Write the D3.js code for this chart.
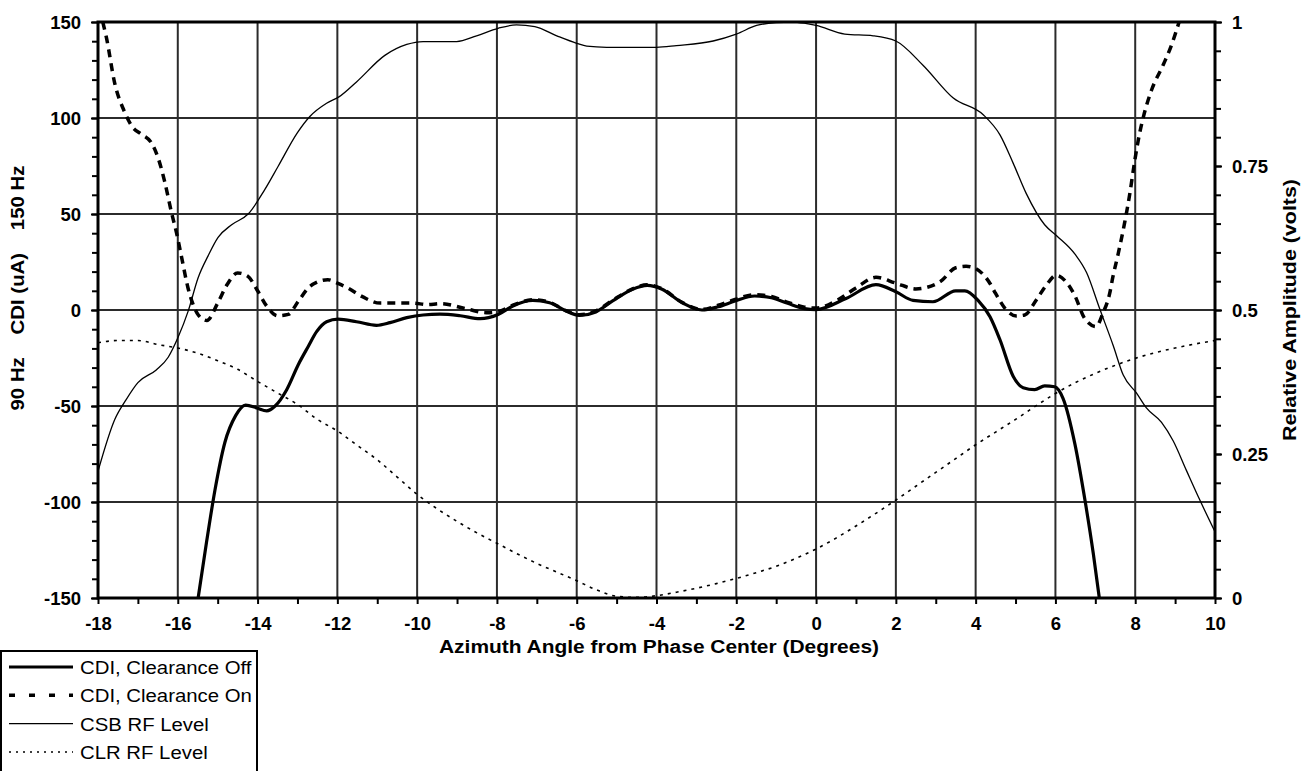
<!DOCTYPE html>
<html>
<head>
<meta charset="utf-8">
<script src="https://cdn.jsdelivr.net/npm/d3@7"></script>
<style>
  body { margin: 0; background: #fff; }
  text { font-family: Arial, "Liberation Sans", sans-serif; fill: #000; }
</style>
</head>
<body>
<svg id="vis" width="1312" height="771"></svg>
<script>
// tick labels
const angleTicks = [-18, -16, -14, -12, -10, -8, -6, -4, -2, 0, 2, 4, 6, 8, 10];
const cdiTicks = [-150, -100, -50, 0, 50, 100, 150];
const ampTicks = [0, 0.25, 0.5, 0.75, 1];

// CDI, Clearance Off  [angle, uA]
const cdiOff = [
  [-15.49, -150], [-15.28, -121], [-15.07, -94], [-14.82, -69], [-14.55, -55], [-14.3, -49.5],
  [-14.02, -51], [-13.77, -52.5], [-13.56, -50], [-13.27, -41.5], [-12.98, -28.5], [-12.73, -19],
  [-12.52, -11.3], [-12.27, -6.1], [-11.98, -4.8], [-11.52, -6.1], [-11.02, -8], [-10.68, -6.6],
  [-10.26, -4], [-9.85, -2.6], [-9.43, -2.2], [-8.92, -3], [-8.42, -4.5], [-7.97, -2.3],
  [-7.6, 2.1], [-7.1, 5], [-6.68, 3.8], [-6.27, -0.5], [-5.93, -2.8], [-5.52, -1], [-5.1, 4.7],
  [-4.6, 10.8], [-4.23, 12.8], [-3.86, 10.8], [-3.36, 3.8], [-2.86, 0], [-2.45, 1.7], [-2.03, 4.7],
  [-1.54, 7.3], [-1.12, 6.4], [-0.71, 3.5], [-0.29, 0.7], [0, 0.2], [0.75, 6], [1.5, 13.2],
  [2.0, 9.5], [2.43, 5], [2.93, 4.3], [3.5, 10], [3.73, 10], [4.06, 5], [4.36, -3.5],
  [4.61, -15.5], [4.94, -34.5], [5.19, -40.5], [5.48, -41.5], [5.73, -39.5], [5.98, -40],
  [6.19, -46], [6.49, -70], [6.74, -99], [6.95, -127], [7.1, -150]
];

// CDI, Clearance On  [angle, uA]
const cdiOn = [
  [-17.88, 150], [-17.79, 142], [-17.58, 118], [-17.33, 103], [-17.16, 96], [-16.91, 91.5],
  [-16.66, 87], [-16.49, 79], [-16.33, 67], [-16.16, 51], [-16.03, 40], [-15.9, 27], [-15.75, 12],
  [-15.6, 2], [-15.49, -2.5], [-15.27, -5.5], [-15.0, 3.6], [-14.77, 13], [-14.5, 19.3],
  [-14.24, 17.5], [-14.0, 10], [-13.77, 2], [-13.5, -3], [-13.23, -2.3], [-12.98, 4.5],
  [-12.73, 11.5], [-12.5, 14.6], [-12.24, 15.8], [-12.0, 14], [-11.74, 11.5], [-11.36, 6.8],
  [-10.93, 3.6], [-10.5, 3.6], [-10.1, 3.6], [-9.75, 2.8], [-9.42, 3.3], [-8.75, 0.5],
  [-8.27, -1.4], [-7.97, -0.9], [-7.6, 2.5], [-7.1, 5.3], [-6.68, 4], [-6.27, -0.3], [-5.93, -2.5],
  [-5.52, -0.5], [-5.1, 5], [-4.6, 11], [-4.23, 13.2], [-3.86, 11], [-3.36, 4], [-2.86, 0.3],
  [-2.45, 2.5], [-2.03, 5.5], [-1.54, 8], [-1.12, 7], [-0.71, 4], [-0.29, 1.5], [0, 1],
  [0.55, 5.3], [1.0, 11.5], [1.5, 17], [2.0, 14], [2.5, 11], [3.1, 14.6], [3.5, 22], [3.76, 22.8],
  [4.0, 21.6], [4.36, 13.8], [4.5, 8.6], [4.77, 0], [5.02, -3.1], [5.23, -2.6], [5.52, 5.2],
  [5.77, 12.9], [6.02, 18.1], [6.27, 14.6], [6.48, 7.8], [6.73, -4.3], [7.02, -8.6], [7.19, -1.7],
  [7.36, 8.6], [7.44, 17.2], [7.57, 29], [7.74, 46], [7.86, 60], [7.99, 78], [8.11, 92],
  [8.21, 101], [8.41, 114.6], [8.7, 127.6], [8.91, 138], [9.1, 150]
];

// CSB RF Level  [angle, volts]
const csbLevel = [
  [-18, 0.22], [-17.58, 0.31], [-17.29, 0.345], [-17.0, 0.374], [-16.54, 0.396], [-16.24, 0.418],
  [-15.99, 0.453], [-15.74, 0.498], [-15.49, 0.556], [-15.24, 0.594], [-14.99, 0.626],
  [-14.65, 0.648], [-14.23, 0.667], [-13.82, 0.709], [-13.48, 0.75], [-13.0, 0.808],
  [-12.69, 0.836], [-12.27, 0.859], [-11.96, 0.870], [-11.52, 0.896], [-10.81, 0.942],
  [-10.26, 0.961], [-9.85, 0.966], [-9.01, 0.966], [-8.51, 0.976], [-7.97, 0.989], [-7.51, 0.995],
  [-7.05, 0.992], [-6.5, 0.976], [-6.0, 0.963], [-5.75, 0.958], [-5.25, 0.956], [-4.0, 0.956],
  [-3.5, 0.959], [-2.58, 0.967], [-2.0, 0.979], [-1.49, 0.994], [-1.0, 0.999], [-0.6, 1.0],
  [-0.3, 0.998], [0, 0.994], [0.72, 0.979], [1.43, 0.976], [2.0, 0.967], [2.68, 0.925],
  [3.44, 0.868], [4.19, 0.839], [4.61, 0.804], [4.94, 0.755], [5.27, 0.702], [5.73, 0.648],
  [6.03, 0.629], [6.49, 0.597], [6.78, 0.565], [7.11, 0.502], [7.45, 0.438], [7.7, 0.387],
  [8.03, 0.356], [8.28, 0.33], [8.66, 0.305], [8.95, 0.273], [9.28, 0.222], [9.62, 0.17], [10, 0.115]
];

// CLR RF Level  [angle, volts]
const clrLevel = [
  [-18, 0.443], [-17.5, 0.447], [-17, 0.447], [-16.5, 0.44], [-16, 0.434], [-15.5, 0.425],
  [-15, 0.412], [-14.5, 0.397], [-14, 0.376], [-13.5, 0.356], [-13, 0.336], [-12.5, 0.31],
  [-12, 0.29], [-11.5, 0.265], [-11, 0.24], [-10.5, 0.21], [-10, 0.18], [-9.5, 0.155],
  [-9, 0.133], [-8.5, 0.113], [-8, 0.095], [-7.5, 0.077], [-7, 0.06], [-6.5, 0.045], [-6, 0.03],
  [-5.5, 0.014], [-5, 0.003], [-4.5, 0.001], [-4, 0.004], [-3.5, 0.01], [-3, 0.017],
  [-2.5, 0.025], [-2, 0.034], [-1.5, 0.044], [-1, 0.055], [-0.5, 0.069], [0, 0.085], [0.5, 0.104],
  [1, 0.125], [1.5, 0.147], [2, 0.17], [2.5, 0.194], [3, 0.218], [3.5, 0.242], [4, 0.266],
  [4.5, 0.288], [5, 0.31], [5.5, 0.333], [6, 0.355], [6.5, 0.374], [7, 0.39], [7.5, 0.404],
  [8, 0.416], [8.5, 0.426], [9, 0.434], [9.5, 0.441], [10, 0.447]
];

const legendNames = ["CDI, Clearance Off", "CDI, Clearance On", "CSB RF Level", "CLR RF Level"];

const svg = d3.select("#vis");
const plotL = 98, plotR = 1215, plotT = 22, plotB = 598;

// SCALES
const x = d3.scaleLinear().domain([-18, 10]).range([plotL, plotR]);
const yL = d3.scaleLinear().domain([-150, 150]).range([plotB, plotT]);
const yR = d3.scaleLinear().domain([0, 1]).range([plotB, plotT]);

svg.append("clipPath").attr("id", "plotClip")
  .append("rect")
  .attr("x", plotL).attr("y", plotT)
  .attr("width", plotR - plotL).attr("height", plotB - plotT);

// grid
const grid = svg.append("g").attr("stroke", "#2b2b2b").attr("stroke-width", 2);
grid.selectAll(".vg")
  .data(angleTicks.slice(1, -1))
  .join("line")
  .attr("class", "vg")
  .attr("x1", d => x(d)).attr("x2", d => x(d))
  .attr("y1", plotT).attr("y2", plotB);
grid.selectAll(".hg")
  .data(cdiTicks.slice(1, -1))
  .join("line")
  .attr("class", "hg")
  .attr("x1", plotL).attr("x2", plotR)
  .attr("y1", d => yL(d)).attr("y2", d => yL(d));

// lines
const lineL = d3.line().x(d => x(d[0])).y(d => yL(d[1])).curve(d3.curveMonotoneX);
const lineR = d3.line().x(d => x(d[0])).y(d => yR(d[1])).curve(d3.curveMonotoneX);

const plot = svg.append("g").attr("clip-path", "url(#plotClip)").attr("fill", "none").attr("stroke", "#000");

plot.append("path").datum(clrLevel)
  .attr("d", lineR).attr("stroke-width", 1.6).attr("stroke-dasharray", "3,5");
plot.append("path").datum(csbLevel)
  .attr("d", lineR).attr("stroke-width", 1.3);
plot.append("path").datum(cdiOn)
  .attr("d", lineL).attr("stroke-width", 3.5).attr("stroke-dasharray", "8,6");
plot.append("path").datum(cdiOff)
  .attr("d", lineL).attr("stroke-width", 3.2);

// axes
const plain = d => String(d);   // hyphen minus, like the original

function styleAxis(g) {
  g.select(".domain").remove();
  g.selectAll(".tick line").attr("stroke", "#000").attr("stroke-width", 2);
  g.selectAll(".tick text").style("font-size", "18.5px").style("font-weight", "bold")
    .style("font-family", "Arial, 'Liberation Sans', sans-serif");
}

svg.append("g")
  .attr("transform", `translate(${plotL},0)`)
  .call(d3.axisLeft(yL).tickValues(d3.range(-150, 151, 10)).tickSize(6).tickFormat(""))
  .call(styleAxis);
svg.append("g")
  .attr("transform", `translate(${plotL},0)`)
  .call(d3.axisLeft(yL).tickValues(cdiTicks).tickSize(7).tickPadding(10).tickFormat(plain))
  .call(styleAxis)
  .selectAll(".tick text").attr("dy", "0.36em");

svg.append("g")
  .attr("transform", `translate(${plotR},0)`)
  .call(d3.axisRight(yR).tickValues(d3.range(0, 1.001, 0.05)).tickSize(6).tickFormat(""))
  .call(styleAxis);
svg.append("g")
  .attr("transform", `translate(${plotR},0)`)
  .call(d3.axisRight(yR).tickValues(ampTicks).tickSize(7).tickPadding(10).tickFormat(plain))
  .call(styleAxis)
  .selectAll(".tick text").attr("dy", "0.36em");

svg.append("g")
  .attr("transform", `translate(0,${plotB})`)
  .call(d3.axisBottom(x).tickValues(d3.range(-17, 10, 2)).tickSize(6).tickFormat(""))
  .call(styleAxis);
svg.append("g")
  .attr("transform", `translate(0,${plotB})`)
  .call(d3.axisBottom(x).tickValues(angleTicks).tickSize(6).tickPadding(13).tickFormat(plain))
  .call(styleAxis);

// frame
svg.append("rect")
  .attr("x", plotL).attr("y", plotT)
  .attr("width", plotR - plotL).attr("height", plotB - plotT)
  .attr("fill", "none").attr("stroke", "#000").attr("stroke-width", 3);

// titles
svg.append("text")
  .attr("x", 659).attr("y", 653)
  .attr("text-anchor", "middle")
  .attr("textLength", 440).attr("lengthAdjust", "spacingAndGlyphs")
  .style("font-size", "18px").style("font-weight", "bold")
  .text("Azimuth Angle from Phase Center (Degrees)");

svg.append("text")
  .attr("transform", "translate(24,288) rotate(-90)")
  .attr("text-anchor", "middle")
  .attr("textLength", 245).attr("lengthAdjust", "spacingAndGlyphs")
  .style("font-size", "18.5px").style("font-weight", "bold")
  .style("white-space", "pre")
  .text("90 Hz    CDI (uA)    150 Hz");

svg.append("text")
  .attr("transform", "translate(1296,310) rotate(-90)")
  .attr("text-anchor", "middle")
  .attr("textLength", 262).attr("lengthAdjust", "spacingAndGlyphs")
  .style("font-size", "18.5px").style("font-weight", "bold")
  .text("Relative Amplitude (volts)");

// legend
const legend = svg.append("g");
legend.append("rect")
  .attr("x", 1).attr("y", 651).attr("width", 256).attr("height", 140)
  .attr("fill", "#fff").attr("stroke", "#000").attr("stroke-width", 2);

const legendStyle = [
  { w: 3.2, dash: null },
  { w: 3.5, dash: "6,14" },
  { w: 1.3, dash: null },
  { w: 1.5, dash: "2,5" }
];

const rows = legend.selectAll(".row")
  .data(legendNames)
  .join("g")
  .attr("class", "row")
  .attr("transform", (d, i) => `translate(0,${667 + i * 28.3})`);
rows.append("line")
  .attr("x1", 9).attr("x2", 73)
  .attr("stroke", "#000")
  .attr("stroke-width", (d, i) => legendStyle[i].w)
  .attr("stroke-dasharray", (d, i) => legendStyle[i].dash);
rows.append("text")
  .attr("transform", "translate(80,7) scale(1.1,1)")
  .style("font-size", "18.5px")
  .text(d => d);
</script>
</body>
</html>
